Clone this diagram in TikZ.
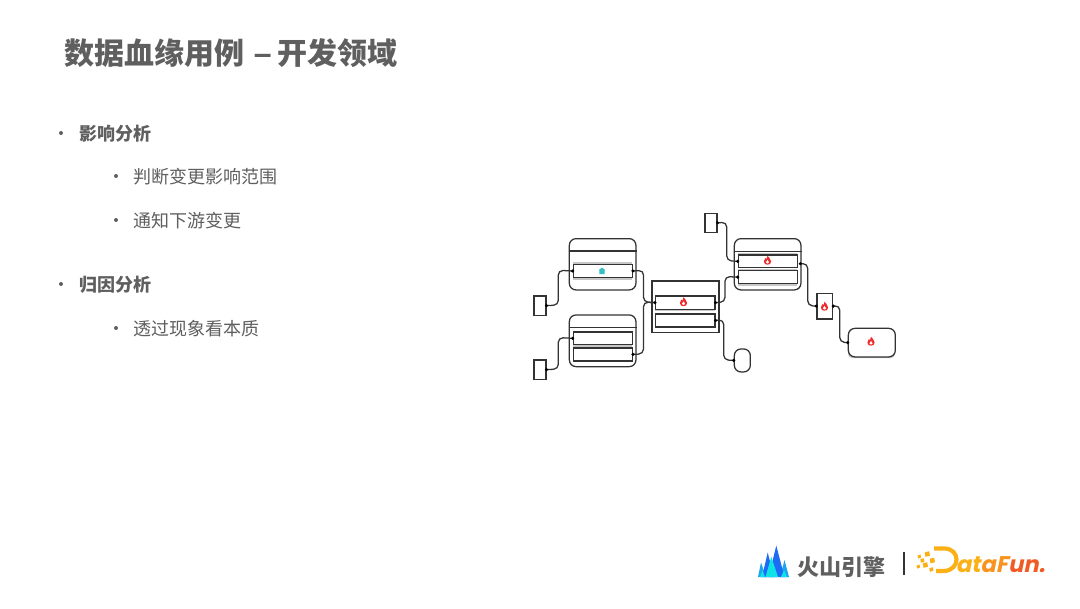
\documentclass[tikz,border=0pt]{standalone}
\usepackage{fontspec}
\setmainfont{Noto Sans CJK SC}
\newfontfamily\cjk{Noto Sans CJK SC}
\newfontfamily\latinb{Poppins}
\newfontfamily\dashfont{Liberation Sans}
\usetikzlibrary{calc}
\definecolor{txt}{HTML}{5F5F5F}
\definecolor{ln}{HTML}{333333}
\definecolor{flame}{HTML}{F02B2B}
\definecolor{teal}{HTML}{35BFC4}
\definecolor{orangeA}{HTML}{FBB016}
\definecolor{orangeB}{HTML}{F7931E}
\definecolor{orangeC}{HTML}{F15A24}
\definecolor{skyA}{HTML}{1E6BF5}
\definecolor{skyB}{HTML}{0FE3E6}
\definecolor{skyC}{HTML}{1AA6F0}
\tikzset{
  x=0.75pt,y=-0.75pt,
  title/.style={anchor=west,inner sep=0,font=\cjk\bfseries\fontsize{22.5pt}{26pt}\selectfont,text=txt},
  head/.style={anchor=west,inner sep=0,font=\cjk\bfseries\fontsize{13.5pt}{16pt}\selectfont,text=txt},
  sub/.style={anchor=west,inner sep=0,font=\cjk\fontsize{13.5pt}{16pt}\selectfont,text=txt},
  bul/.style={circle,fill=txt,inner sep=0,minimum size=3pt},
  card/.style={draw=ln,line width=0.95pt,fill=white,rounded corners=5pt,inner sep=0},
  sq/.style={draw=ln,line width=0.95pt,fill=white,inner sep=0},
  row/.style={draw=ln,line width=0.95pt,fill=white,inner sep=0},
  shade/.style={fill=black!22,draw=none},
  wire/.style={draw=ln,line width=0.95pt,rounded corners=3.5pt},
  dot/.style={circle,fill=black,inner sep=0,minimum size=2.6pt},
  flamepic/.pic={
    \fill[flame] (0,-4.8) .. controls (0.6,-3) and (3.6,-2.2) .. (3.6,1) .. controls (3.6,3.2) and (2,4.2) .. (0,4.2) .. controls (-2,4.2) and (-3.6,3.2) .. (-3.6,1) .. controls (-3.6,-0.6) and (-2.6,-1.2) .. (-2.2,-2.4) .. controls (-1.6,-1.6) and (-1.4,-1.4) .. (-1,-1.4) .. controls (-0.6,-2.4) and (-0.4,-3.6) .. (0,-4.8) -- cycle;
    \fill[white] (0,-0.6) .. controls (1,0.3) and (1.6,1) .. (1.6,1.8) .. controls (1.6,2.7) and (0.8,3.1) .. (0,3.1) .. controls (-0.8,3.1) and (-1.6,2.7) .. (-1.6,1.8) .. controls (-1.6,1) and (-0.8,0.3) .. (0,-0.6) -- cycle;
  },
  tealpic/.pic={
    \fill[teal] (0,-3.4) -- (3.2,-1) -- (2.6,-0.6) -- (2.6,3) -- (-2.6,3) -- (-2.6,-0.6) -- (-3.2,-1) -- cycle;
  },
}
\newcommand{\boxnode}[6]{% name, style, x1, y1, x2, y2
  \node[#2,anchor=north west,minimum width={(#5-#3)*0.75pt},minimum height={(#6-#4)*0.75pt}] (#1) at (#3,#4) {};
}
\newcommand{\shadowrow}[4]{\fill[shade] (#1,#2) rectangle (#3,#4);}
\begin{document}
\begin{tikzpicture}
\useasboundingbox (0,0) rectangle (1080,608);
\fill[white] (0,0) rectangle (1080,608);

% Title and text
\node[title] (t0) at (64,53) {数据血缘用例\hspace{7.2pt}{\dashfont\bfseries\fontsize{24pt}{26pt}\selectfont –}\hspace{4.2pt}开发领域};
\node[bul] (b1) at (61,133) {};
\node[head] (h1) at (79,133.5) {影响分析};
\node[bul] (b2) at (116,176) {};
\node[sub] (s1) at (133,176.7) {判断变更影响范围};
\node[bul] (b3) at (116,220) {};
\node[sub] (s2) at (133,220.5) {通知下游变更};
\node[bul] (b4) at (61,284) {};
\node[head] (h2) at (79,284.5) {归因分析};
\node[bul] (b5) at (116,328) {};
\node[sub] (s3) at (133,328.5) {透过现象看本质};

% Shadows behind cards
\fill[shade,rounded corners=5pt] (570,246) rectangle (635,288);
\fill[shade,rounded corners=5pt] (570,322) rectangle (635,365);
\fill[shade,rounded corners=5pt] (735,246) rectangle (800,288);

% Cards
\boxnode{ca}{card}{568.7}{238}{635.3}{289.3}
\draw[ln,line width=0.95pt] (ca.west |- 0,251) -- (ca.east |- 0,251);
\boxnode{cb}{card}{568.7}{314.3}{635.3}{366}
\draw[ln,line width=0.95pt] (cb.west |- 0,327.3) -- (cb.east |- 0,327.3);
\boxnode{cc}{sq}{651.3}{280.3}{718.3}{331.7}
\boxnode{cd}{card}{733.7}{238}{800.3}{289.3}
\draw[ln,line width=0.95pt] (cd.west |- 0,251.5) -- (cd.east |- 0,251.5);

% Rows
\shadowrow{573}{261.5}{632}{279.5}
\boxnode{a1}{row}{572.7}{263.7}{631.7}{277}
\boxnode{b1r}{row}{572.7}{331.3}{631.7}{344}
\shadowrow{573}{345}{632}{362}
\boxnode{b2r}{row}{572.7}{347.3}{631.7}{360.3}
\shadowrow{655}{295}{714.5}{311}
\boxnode{c1}{row}{655}{295.3}{714.3}{308.7}
\boxnode{c2}{row}{655}{313.3}{714.3}{326.3}
\shadowrow{737.7}{252.5}{797}{268}
\boxnode{d1}{row}{737.7}{254.3}{796.7}{267}
\shadowrow{737.7}{269}{797}{285.5}
\boxnode{d2}{row}{737.7}{270}{796.7}{283}

% Standalone boxes
\boxnode{l1}{sq}{533.3}{295.3}{545.3}{314.7}
\boxnode{l2}{sq}{533.3}{359.3}{545.3}{378.7}
\boxnode{top}{sq}{704.3}{212.7}{716.3}{231.7}
\fill[shade] (816,293) rectangle (833,319.5);
\boxnode{dd}{sq}{816.3}{292.7}{832}{318.3}
\fill[shade,rounded corners=3pt] (848,330) rectangle (895,358);
\boxnode{ee}{card}{847.7}{327.7}{894.7}{356.3}
\boxnode{ff}{card}{733.7}{348.3}{749.7}{371.3}

% Icons
\pic at (602,271) {tealpic};
\pic at (683.5,302) {flamepic};
\pic at (767.5,260.5) {flamepic};
\pic at (824.5,306.5) {flamepic};
\pic at (871,341.5) {flamepic};

% Connectors
\coordinate (dout) at (800.3,263.7);
\draw[wire] (l1.east) -- (558.3,305) -- (558.3,270.3) -- (a1.west);
\draw[wire] (l2.east) -- (558.3,369) -- (558.3,337.6) -- (b1r.west);
\draw[wire] (a1.east) -- (643.5,270.3) -- (643.5,302) -- (c1.west);
\draw[wire] (b2r.east) -- (643.5,353.8) -- (643.5,302) -- (c1.west);
\draw[wire] (c1.east) -- (725,302) -- (725,276.5) -- (d2.west);
\draw[wire] (c2.east) -- (723.7,319.8) -- (723.7,359.8) -- (ff.west);
\draw[wire] (top.east) -- (726.7,222.2) -- (726.7,260.6) -- (d1.west);
\draw[wire] (dout) -- (807.7,263.7) -- (807.7,305.5) -- (dd.west);
\draw[wire] (dd.east) -- (839.7,305.5) -- (839.7,342) -- (ee.west);
\foreach \p in {l1.east,l2.east,a1.west,a1.east,b1r.west,b2r.east,c1.west,c1.east,c2.east,d1.west,d2.west,top.east,dout,dd.west,dd.east,ee.west,ff.west}
  \node[dot] at (\p) {};

% Volcano logo
\fill[skyC] (758,577) -- (761,562.5) -- (766,577) -- cycle;
\fill[skyC] (780,577) -- (784.5,560) -- (789,577) -- cycle;
\fill[skyA] (762,577) -- (767.7,552.5) -- (774,577) -- cycle;
\fill[skyA] (768.5,577) -- (776.3,545.7) -- (784.5,577) -- cycle;
\fill[skyB] (760,577) -- (762.5,570) -- (765,577) -- cycle;
\fill[skyB] (765.5,577) -- (771.3,556.7) -- (778,577) -- cycle;
\fill[skyB] (781,577) -- (784,570) -- (787,577) -- cycle;
\node[anchor=west,inner sep=0,font=\cjk\bfseries\fontsize{16.5pt}{18pt}\selectfont,text=txt] (vt) at (797,567.5) {火山引擎};
\draw[ln,line width=1.2pt] (903.7,552) -- (903.7,575);

% DataFun logo
\foreach \xx/\yy/\ss in {927/554.5/4.5,919/557/3,932/561/4.5,922/561/3.5,925/565.5/4.5,918/567/3,931/570/3.5}
  \fill[orangeA] (\xx,\yy) ++(-\ss*0.5,-\ss*0.5) -- ++(\ss,-1) -- ++(0.7,\ss) -- ++(-\ss,1) -- cycle;
\draw[orangeA,line width=3.1pt] (934,548.5) -- (945,548.5) .. controls (960,549) and (961,570) .. (944,571) -- (936,571);
\node[anchor=base west,inner sep=0,font=\latinb\bfseries\fontsize{17pt}{18pt}\selectfont,xslant=0.2] (df) at (955.5,572.5) {\textcolor{orangeA}{a}\textcolor{orangeA}{t}\textcolor{orangeB}{a}\textcolor{orangeB}{F}\textcolor{orangeC}{u}\textcolor{orangeC}{n}\textcolor{orangeC}{.}};
\end{tikzpicture}
\end{document}
